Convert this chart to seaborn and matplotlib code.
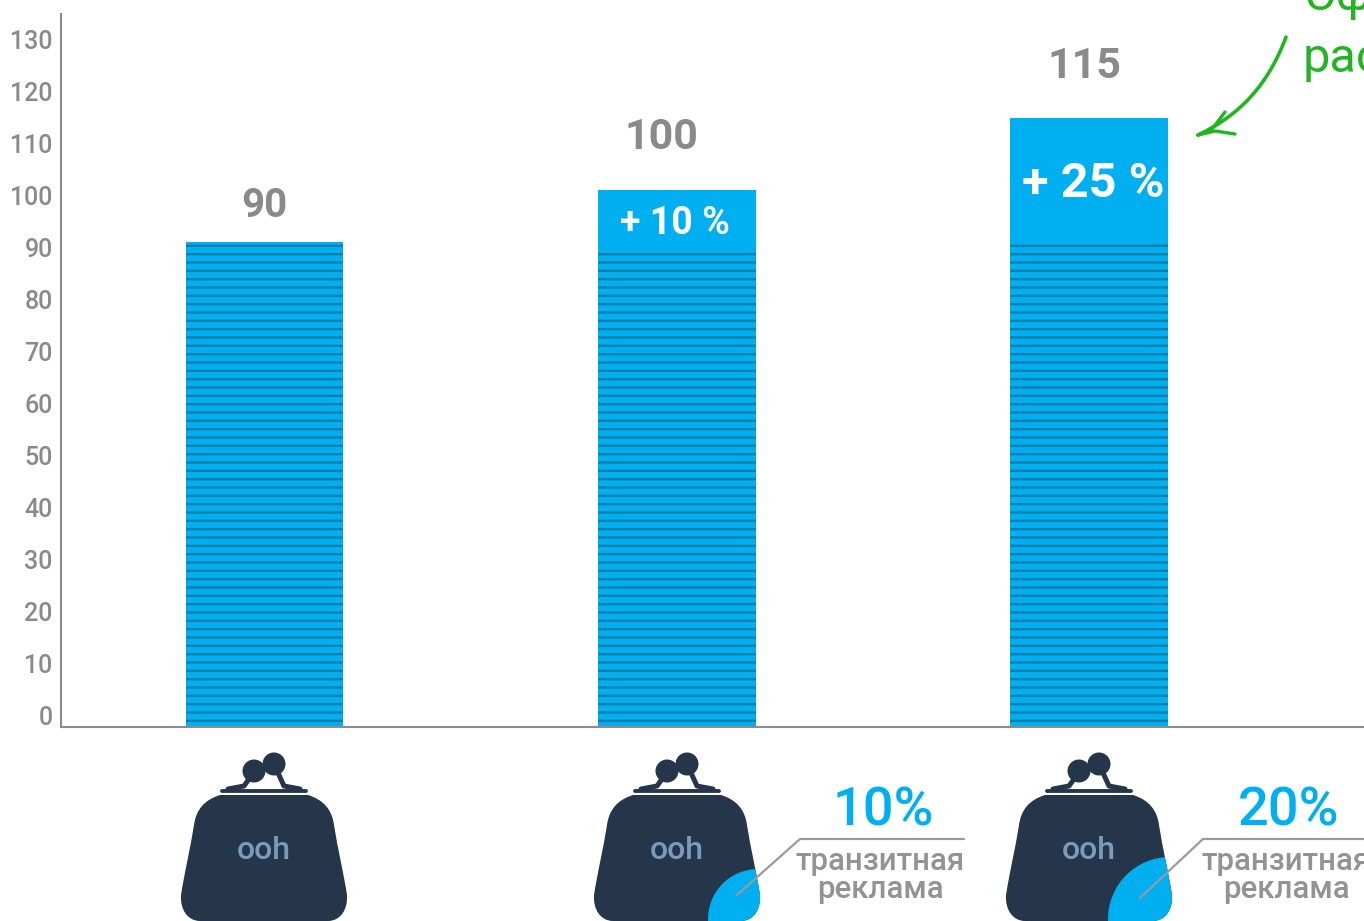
import matplotlib
matplotlib.use('Agg')
import matplotlib.pyplot as plt
import pandas as pd
import seaborn as sns
from matplotlib.patches import Circle, PathPatch
from matplotlib.path import Path

# values
categories = ['ooh', 'ooh + 10%', 'ooh + 20%']
total_height = [91, 101.1, 115]
base_height = [91, 89.4, 91]
value_labels = ['90', '100', '115']
gain_labels = ['', '+ 10 %', '+ 25 %']
yticks = list(range(0, 140, 10))
transit_share = ['', '10%', '20%']

BLUE = '#00aff0'
STRIPE = '#0a7fae'
GREY = '#8a8a8a'
NAVY = '#26364a'
GREEN = '#22b522'
AXIS_BOTTOM = -2.3

sns.set_theme(style='white')
plt.rcParams['font.family'] = ['Roboto', 'DejaVu Sans']
plt.rcParams['hatch.linewidth'] = 1.7

df = pd.DataFrame({'cat': categories, 'total': total_height, 'base': base_height})

fig = plt.figure(figsize=(13.64, 9.21), dpi=100)
ax = fig.add_axes([61 / 1364, 1 - 727 / 921, 1 - 61 / 1364, (727 - 14) / 921])

# full bar first, striped part goes over it
sns.barplot(data=df, x='cat', y='total', order=categories, color=BLUE, saturation=1,
            width=0.383, ax=ax, linewidth=0)
sns.barplot(data=df, x='cat', y='base', order=categories, color=BLUE, saturation=1,
            width=0.383, ax=ax, hatch='--', edgecolor=STRIPE, linewidth=0)

# bars stand on the axis line, which sits a bit under the 0 label
for p in ax.patches:
    p.set_height(p.get_height() - AXIS_BOTTOM)
    p.set_y(AXIS_BOTTOM)

ax.set_xlim(-0.4936, 2.667)
ax.set_ylim(AXIS_BOTTOM, 135)
ax.set_yticks(yticks)
ax.set_xlabel('')
ax.set_ylabel('')
ax.tick_params(axis='x', bottom=False, labelbottom=False)
ax.tick_params(axis='y', left=False, labelsize=18, labelcolor=GREY, pad=0)
for lab in ax.get_yticklabels():
    lab.set_fontweight('medium')
sns.despine(ax=ax)
for side in ['left', 'bottom']:
    ax.spines[side].set_color('#8c8c8c')
    ax.spines[side].set_linewidth(1.5)

label_x = [0, 0.964, 1.99]
label_y = [98.0, 111.3, 124.8]
label_size = [29, 31, 31]
for x, y, s, fs in zip(label_x, label_y, value_labels, label_size):
    ax.text(x, y, s, ha='center', va='center', fontsize=fs, fontweight='bold', color=GREY)

ax.text(0.995, 94.6, gain_labels[1], ha='center', va='center', fontsize=27,
        fontweight='bold', color='white')
ax.text(2.01, 102.3, gain_labels[2], ha='center', va='center', fontsize=35,
        fontweight='bold', color='white')

# overlay in pixels for purses and notes
ov = fig.add_axes([0, 0, 1, 1], facecolor='none')
ov.set_xlim(0, 1364)
ov.set_ylim(921, 0)
ov.axis('off')


def purse(cx, extra_r=None):
    M, C, L, Z = Path.MOVETO, Path.CURVE4, Path.LINETO, Path.CLOSEPOLY
    verts = [(-44, 795), (-60, 800), (-68, 810), (-70, 825), (-74, 850), (-80, 875), (-83, 895),
             (-84, 910), (-76, 921), (-64, 921), (64, 921), (76, 921), (84, 910), (83, 895),
             (80, 875), (74, 850), (70, 825), (68, 810), (60, 800), (44, 795), (-44, 795)]
    codes = [M, C, C, C, C, C, C, C, C, C, L, C, C, C, C, C, C, C, C, C, Z]
    body = PathPatch(Path([(cx + x, y) for x, y in verts], codes), fc=NAVY, ec='none')
    ov.add_patch(body)
    if extra_r:
        c = Circle((cx + 81, 919), extra_r, fc=BLUE, ec='none')
        ov.add_patch(c)
        c.set_clip_path(body)
    # clasp
    ov.plot([cx - 42, cx + 42], [791, 791], color=NAVY, lw=2.8, solid_capstyle='round')
    ov.plot([cx - 36, cx - 20, cx - 10], [789, 786, 772], color=NAVY, lw=3.6)
    ov.plot([cx + 36, cx + 20, cx + 10], [789, 786, 764], color=NAVY, lw=3.6)
    ov.add_patch(Circle((cx - 10, 771), 11.5, fc=NAVY, ec='none'))
    ov.add_patch(Circle((cx + 10, 764), 11.5, fc=NAVY, ec='none'))
    ov.text(cx, 850, 'ooh', ha='center', va='center', fontsize=23, color='#7a9cbc', fontweight='medium')


purse(264)
purse(677, 50)
purse(1089, 62)

# callouts
ov.plot([737, 800, 964], [895, 839, 839], color='#9a9a9a', lw=1.6)
ov.plot([1140, 1203, 1364], [898, 839, 839], color='#9a9a9a', lw=1.6)
for cx, s in [(880, transit_share[1]), (1286, transit_share[2])]:
    ov.text(cx + 3, 811, s, ha='center', va='center', fontsize=39, color=BLUE, fontweight='medium')
    ov.text(cx, 861, 'транзитная', ha='center', va='center', fontsize=22.5, color='#939393', fontweight='medium')
    ov.text(cx, 889, 'реклама', ha='center', va='center', fontsize=22.5, color='#939393', fontweight='medium')

# green note, runs off the picture
t1 = ov.text(1303, 10, 'Эф', ha='left', va='baseline', fontsize=35, color=GREEN)
t2 = ov.text(1303, 72, 'рас', ha='left', va='baseline', fontsize=35, color=GREEN)

curve = Path([(1286, 37), (1268, 85), (1240, 115), (1198, 135)],
             [Path.MOVETO, Path.CURVE4, Path.CURVE4, Path.CURVE4])
ov.add_patch(PathPatch(curve, fc='none', ec=GREEN, lw=2.6, capstyle='round'))
ov.plot([1198, 1213, 1225], [135, 128, 112], color=GREEN, lw=2.4)
ov.plot([1198, 1215, 1235], [135, 131, 134], color=GREEN, lw=2.4)

fig.savefig('out.png', dpi=100, facecolor='white')
